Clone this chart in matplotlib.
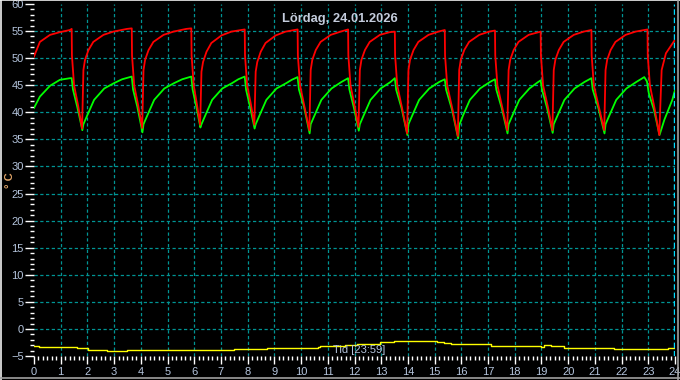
import matplotlib
matplotlib.use("Agg")
from matplotlib import pyplot as plt
from matplotlib.ticker import MultipleLocator
from matplotlib.lines import Line2D

# red sensor (time in hours, temp)
red_t = [0, 0.22, 0.6, 0.97, 1.35, 1.41,
         1.42, 1.50, 1.65, 1.80, 1.85, 1.91, 2.04, 2.22, 2.60, 2.97, 3.48, 3.66,
         3.67, 3.75, 3.90, 4.05, 4.10, 4.16, 4.29, 4.47, 4.85, 5.22, 5.70, 5.89,
         5.90, 5.98, 6.10, 6.22, 6.27, 6.33, 6.46, 6.64, 7.02, 7.39, 7.89,
         7.90, 7.98, 8.12, 8.25, 8.30, 8.36, 8.49, 8.67, 9.05, 9.42, 9.87,
         9.88, 9.96, 10.13, 10.31, 10.36, 10.42, 10.55, 10.73, 11.11, 11.48, 11.76,
         11.77, 11.85, 12.00, 12.15, 12.20, 12.26, 12.39, 12.57, 12.95, 13.32, 13.51,
         13.52, 13.60, 13.78, 13.97, 14.02, 14.08, 14.21, 14.39, 14.77, 15.14, 15.38,
         15.39, 15.47, 15.67, 15.87, 15.92, 15.98, 16.11, 16.29, 16.67, 17.04, 17.26,
         17.27, 17.35, 17.53, 17.72, 17.77, 17.83, 17.96, 18.14, 18.52, 18.89, 18.97,
         18.98, 19.06, 19.24, 19.41, 19.46, 19.52, 19.65, 19.83, 20.21, 20.58, 20.87,
         20.88, 20.96, 21.15, 21.35, 21.40, 21.46, 21.59, 21.77, 22.15, 22.52, 22.97,
         22.98, 23.06, 23.24, 23.41, 23.50, 23.66, 24.0]
red_v = [50.3, 53.0, 54.3, 54.8, 55.2, 55.4,
         50.5, 45.0, 41.3, 37.0, 47.8, 49.7, 51.5, 53.0, 54.3, 54.9, 55.4, 55.5,
         50.5, 45.0, 41.3, 37.1, 47.8, 49.7, 51.5, 53.0, 54.3, 54.9, 55.4, 55.5,
         50.5, 45.0, 41.5, 37.7, 47.5, 49.3, 51.2, 52.8, 54.2, 54.9, 55.3,
         50.5, 45.0, 41.5, 37.7, 47.5, 49.3, 51.2, 52.8, 54.2, 54.9, 55.3,
         50.5, 45.0, 41.0, 36.7, 47.8, 49.7, 51.5, 53.0, 54.3, 54.9, 55.3,
         50.5, 45.0, 41.3, 37.3, 47.8, 49.7, 51.5, 53.0, 54.3, 54.8, 54.9,
         50.5, 45.0, 40.8, 36.1, 47.8, 49.7, 51.5, 53.0, 54.3, 54.9, 55.2,
         50.5, 45.0, 40.5, 35.6, 47.8, 49.7, 51.5, 53.0, 54.3, 54.9, 55.1,
         50.5, 45.0, 41.0, 36.7, 47.8, 49.7, 51.5, 53.0, 54.3, 54.8, 54.9,
         50.5, 45.0, 41.0, 36.7, 47.8, 49.7, 51.5, 53.0, 54.3, 54.9, 55.2,
         50.5, 45.0, 41.0, 36.7, 47.8, 49.7, 51.5, 53.0, 54.3, 54.9, 55.3,
         50.5, 45.0, 40.6, 35.8, 47.8, 50.9, 53.4]

# green sensor
green_t = [0, 0.22, 0.6, 0.97, 1.35, 1.41,
           1.46, 1.62, 1.81, 1.85, 2.00, 2.25, 2.63, 3.00, 3.30, 3.66,
           3.71, 3.87, 4.06, 4.10, 4.25, 4.50, 4.88, 5.25, 5.55, 5.89,
           5.94, 6.08, 6.23, 6.27, 6.42, 6.67, 7.05, 7.42, 7.65, 7.89,
           7.94, 8.09, 8.26, 8.30, 8.45, 8.70, 9.08, 9.45, 9.65, 9.87,
           9.92, 10.11, 10.32, 10.36, 10.51, 10.76, 11.14, 11.51, 11.76,
           11.81, 11.97, 12.16, 12.20, 12.35, 12.60, 12.98, 13.35, 13.51,
           13.56, 13.76, 13.98, 14.02, 14.17, 14.42, 14.80, 15.17, 15.38,
           15.43, 15.65, 15.88, 15.92, 16.07, 16.32, 16.70, 17.07, 17.26,
           17.31, 17.51, 17.73, 17.77, 17.92, 18.17, 18.55, 18.85, 18.97,
           19.02, 19.21, 19.42, 19.46, 19.61, 19.86, 20.24, 20.61, 20.87,
           20.92, 21.13, 21.36, 21.40, 21.55, 21.80, 22.18, 22.55, 22.85, 22.95,
           23.02, 23.21, 23.42, 23.60, 23.90, 24.0]
green_v = [40.8, 42.9, 44.9, 46.0, 46.3, 46.3,
           44.2, 41.0, 36.7, 37.8, 39.5, 42.3, 44.4, 45.4, 46.1, 46.6,
           44.2, 41.0, 36.3, 37.8, 39.5, 42.3, 44.4, 45.4, 46.1, 46.6,
           44.2, 41.0, 37.2, 37.8, 39.5, 42.3, 44.4, 45.4, 46.1, 46.6,
           44.2, 41.0, 37.0, 37.8, 39.5, 42.3, 44.4, 45.4, 46.0, 46.5,
           44.2, 41.0, 36.1, 37.8, 39.5, 42.3, 44.4, 45.6, 46.3,
           44.2, 41.0, 36.6, 37.8, 39.5, 42.3, 44.4, 45.6, 46.3,
           44.2, 40.8, 35.8, 37.8, 39.5, 42.3, 44.4, 45.6, 46.1,
           44.2, 40.5, 35.2, 37.6, 39.5, 42.3, 44.4, 45.6, 46.1,
           44.2, 40.8, 36.1, 37.8, 39.5, 42.3, 44.4, 45.5, 45.9,
           44.2, 40.8, 36.2, 37.8, 39.5, 42.3, 44.4, 45.6, 46.3,
           44.2, 40.8, 36.1, 37.8, 39.5, 42.3, 44.4, 45.6, 46.5, 45.7,
           43.5, 40.5, 35.8, 38.6, 42.3, 44.1]

# outdoor (yellow)
yel_t = [0, 0.1, 0.2, 0.5, 1.4, 1.6, 1.85, 2.04, 2.5, 2.72, 3.47, 3.5, 4.97,
         6.0, 6.47, 7.47, 8.72, 9.97, 10.65, 10.7, 11.6, 11.66, 12.1, 12.7,
         12.97, 13.47, 13.97, 14.47, 15.1, 15.35, 15.6, 16.84, 17.1, 17.72,
         18.34, 18.71, 18.97, 19.09, 19.35, 19.84, 20.85, 21.22, 21.71, 22.46,
         23.1, 23.72, 24.0]
yel_v = [-3.2, -3.1, -3.3, -3.4, -3.4, -3.6, -3.6, -3.8, -3.85, -4.0, -4.0, -3.9, -3.9,
         -3.85, -3.8, -3.7, -3.6, -3.5, -3.4, -3.2, -3.2, -2.9, -2.8, -2.8,
         -2.35, -2.2, -2.2, -2.3, -2.5, -2.65, -2.8, -2.8, -3.1, -3.2,
         -3.1, -3.1, -3.3, -3.0, -3.2, -3.5, -3.5, -3.6, -3.7, -3.65,
         -3.7, -3.6, -3.3]

title_txt = 'Lördag, 24.01.2026'
xlabel_txt = 'Tid [23:59]'
now_h = 23.98

plt.rcParams['font.family'] = ['Liberation Sans', 'DejaVu Sans']
lblcol = '#b4c4dc'
gridcol = '#009494'

fig = plt.figure(figsize=(6.8, 3.8), dpi=100, facecolor='black')
ax = fig.add_axes([34/680, 24/380, 641/680, 352/380], facecolor='black')

for v in range(0, 60, 5):
    ax.axhline(v, color=gridcol, lw=0.9, dashes=(2.6, 2.0), zorder=1)
for h in range(1, 24):
    ax.axvline(h, color=gridcol, lw=0.9, dashes=(2.6, 2.0), zorder=1)

ax.plot(yel_t, yel_v, color='#ffff00', lw=1.0, drawstyle='steps-post', zorder=3)
ax.plot(green_t, green_v, color='#00ff00', lw=1.3, zorder=3)
ax.plot(red_t, red_v, color='#ff0000', lw=1.3, zorder=4)

ax.axvline(now_h, color='#00dcff', lw=1.0, dashes=(4, 2), zorder=5)

ax.set_xlim(0, 24)
ax.set_ylim(-5, 60)
ax.xaxis.set_major_locator(MultipleLocator(1))
ax.xaxis.set_minor_locator(MultipleLocator(1/6))
ax.yaxis.set_major_locator(MultipleLocator(5))
ax.yaxis.set_minor_locator(MultipleLocator(1))
ax.tick_params(which='major', axis='y', length=6.5, width=1, color='white',
               labelcolor=lblcol, labelsize=8, pad=1)
ax.tick_params(which='major', axis='x', length=5.8, width=1, color='white',
               labelcolor=lblcol, labelsize=8, pad=2)
ax.tick_params(which='minor', length=2.9, width=1, color='white')
for s in ax.spines.values():
    s.set_visible(False)

fig.text(0.5, 1 - 19/380, title_txt, ha='center', va='center',
         color='#c4ccdc', fontsize=9.3, fontweight='bold')
ax.text(12.17, -3.8, xlabel_txt, ha='center', va='center', color=lblcol, fontsize=8, zorder=6)
fig.text(10/680, 1 - 180/380, '° C', rotation=90, ha='center', va='center',
         color='#e0a468', fontsize=8, fontweight='bold')

# window frame
fig.add_artist(Line2D([0, 1], [0.999, 0.999], color='#f0f0f0', lw=1.2))
fig.add_artist(Line2D([0.001, 0.001], [0, 1], color='#f0f0f0', lw=1.2))
fig.add_artist(Line2D([0, 1], [0.004, 0.004], color='#a0a0a0', lw=1.2))
fig.add_artist(Line2D([0.997, 0.997], [0, 1], color='#a0a0a0', lw=1.2))

fig.savefig('out.png', dpi=100, facecolor='black')
